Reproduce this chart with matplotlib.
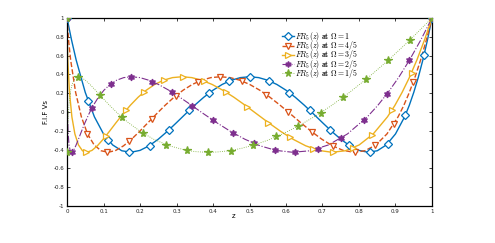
import matplotlib
matplotlib.use("Agg")
import matplotlib.pyplot as plt

plt.rcParams['mathtext.fontset'] = 'cm'

# ---- data ----
vals = [1.0, 0.764, 0.554, 0.208, -0.051, -0.233, -0.350, -0.412, -0.428, -0.408, -0.359,
        -0.289, -0.205, -0.113, -0.019, 0.073, 0.158, 0.232, 0.293, 0.338, 0.366, 0.375,
        0.366, 0.338, 0.293, 0.232, 0.158, 0.073, -0.019, -0.113, -0.205, -0.289, -0.359,
        -0.408, -0.428, -0.412, -0.350, -0.233, -0.051, 0.068, 0.208, 0.369, 0.554, 0.764, 1.0]

z_om1 = [0, 0.0125, 0.025, 0.05, 0.075, 0.1, 0.125, 0.15, 0.175, 0.2, 0.225, 0.25, 0.275, 0.3,
         0.325, 0.35, 0.375, 0.4, 0.425, 0.45, 0.475, 0.5, 0.525, 0.55, 0.575, 0.6, 0.625, 0.65,
         0.675, 0.7, 0.725, 0.75, 0.775, 0.8, 0.825, 0.85, 0.875, 0.9, 0.925, 0.9375, 0.95,
         0.9625, 0.975, 0.9875, 1.0]
v_om1 = vals
z_om45 = [0, 0.0042, 0.0099, 0.0236, 0.0393, 0.0562, 0.0743, 0.0934, 0.1132, 0.1337, 0.1550,
          0.1768, 0.1991, 0.2220, 0.2454, 0.2692, 0.2934, 0.3181, 0.3431, 0.3686, 0.3943, 0.4204,
          0.4469, 0.4736, 0.5007, 0.5281, 0.5557, 0.5836, 0.6118, 0.6403, 0.6690, 0.6980, 0.7272,
          0.7566, 0.7863, 0.8162, 0.8463, 0.8766, 0.9071, 0.9225, 0.9379, 0.9533, 0.9689, 0.9844, 1.0]
v_om45 = vals
z_om35 = [0, 0.0007, 0.0021, 0.0068, 0.0133, 0.0215, 0.0313, 0.0423, 0.0547, 0.0684, 0.0832,
          0.0992, 0.1163, 0.1344, 0.1536, 0.1738, 0.1950, 0.2172, 0.2402, 0.2642, 0.2891, 0.3150,
          0.3417, 0.3692, 0.3977, 0.4268, 0.4569, 0.4877, 0.5194, 0.5519, 0.5851, 0.6191, 0.6539,
          0.6894, 0.7257, 0.7628, 0.8005, 0.8390, 0.8781, 0.8980, 0.9180, 0.9383, 0.9587, 0.9793, 1.0]
v_om35 = vals
z_om25 = [0, 0.00002, 0.0001, 0.0006, 0.0015, 0.0032, 0.0055, 0.0087, 0.0128, 0.0179, 0.0240,
          0.0313, 0.0397, 0.0493, 0.0602, 0.0725, 0.0861, 0.1012, 0.1178, 0.1358, 0.1555, 0.1768,
          0.1997, 0.2243, 0.2507, 0.2789, 0.3088, 0.3406, 0.3743, 0.4100, 0.4476, 0.4871, 0.5287,
          0.5724, 0.6182, 0.6661, 0.7162, 0.7684, 0.8229, 0.8510, 0.8797, 0.9089, 0.9386, 0.9690, 1.0]
v_om25 = vals
z_om15 = [0, 0.00001, 0.00016, 0.00098, 0.0024, 0.0053, 0.0102, 0.0139, 0.0185, 0.0242, 0.0313,
          0.0399, 0.0503, 0.0629, 0.0778, 0.0954, 0.1160, 0.1401, 0.1681, 0.2003, 0.2373, 0.2796,
          0.3277, 0.3541, 0.3822, 0.4120, 0.4437, 0.4773, 0.5129, 0.5506, 0.5905, 0.6327, 0.6772,
          0.7242, 0.7738, 0.8260, 0.8811, 0.9390, 1.0]
v_om15 = [1.0, -0.233, -0.428, -0.289, -0.113, 0.073, 0.232, 0.293, 0.338, 0.366, 0.375,
          0.366, 0.338, 0.293, 0.232, 0.158, 0.073, -0.019, -0.113, -0.205, -0.289, -0.359,
          -0.408, -0.422, -0.428, -0.425, -0.412, -0.387, -0.350, -0.299, -0.233, -0.151, -0.051,
          0.068, 0.208, 0.369, 0.554, 0.764, 1.0]

# marker points
mz_om1 = [0, 0.058, 0.113, 0.171, 0.226, 0.28, 0.335, 0.39, 0.445, 0.5, 0.554, 0.609, 0.665,
          0.72, 0.773, 0.829, 0.879, 0.927, 0.978, 1.0]
mv_om1 = [1.0, 0.116, -0.301, -0.428, -0.357, -0.187, 0.018, 0.204, 0.330, 0.375, 0.331, 0.207,
          0.018, -0.187, -0.354, -0.428, -0.336, -0.033, 0.602, 1.0]
mz_om45 = [0, 0.056, 0.109, 0.171, 0.233, 0.298, 0.36, 0.42, 0.48, 0.546, 0.605, 0.67, 0.73,
           0.789, 0.844, 0.896, 0.949, 1.0]
mv_om45 = [1.0, -0.233, -0.427, -0.306, -0.07, 0.172, 0.32, 0.375, 0.329, 0.186, 0.003, -0.209,
           -0.364, -0.428, -0.355, -0.126, 0.322, 1.0]
mz_om35 = [0, 0.052, 0.107, 0.161, 0.212, 0.267, 0.319, 0.376, 0.436, 0.494, 0.552, 0.611,
           0.673, 0.73, 0.783, 0.837, 0.891, 0.944, 1.0]
mv_om35 = [1.0, -0.428, -0.252, 0.017, 0.217, 0.341, 0.375, 0.329, 0.211, 0.054, -0.113, -0.27,
           -0.39, -0.428, -0.384, -0.243, 0.023, 0.418, 1.0]
mz_om25 = [0, 0.013, 0.068, 0.121, 0.176, 0.234, 0.289, 0.343, 0.401, 0.456, 0.512, 0.57,
           0.626, 0.689, 0.75, 0.814, 0.876, 0.938, 1.0]
mv_om25 = [1.0, -0.428, 0.041, 0.300, 0.375, 0.322, 0.208, 0.066, -0.089, -0.222, -0.333,
           -0.407, -0.428, -0.388, -0.28, -0.083, 0.19, 0.55, 1.0]
mz_om15 = [0, 0.0002, 0.031, 0.09, 0.15, 0.209, 0.271, 0.328, 0.387, 0.449, 0.51, 0.572, 0.632,
           0.695, 0.755, 0.818, 0.879, 0.94, 1.0]
mv_om15 = [1.0, -0.428, 0.375, 0.181, -0.05, -0.224, -0.347, -0.408, -0.428, -0.41, -0.353,
           -0.26, -0.152, -0.008, 0.158, 0.35, 0.554, 0.766, 1.0]

labels = [r'$FR_5(z)\ \mathbf{at}\ \Omega = 1$', r'$FR_5(z)\ \mathbf{at}\ \Omega = 4/5$',
          r'$FR_5(z)\ \mathbf{at}\ \Omega = 3/5$', r'$FR_5(z)\ \mathbf{at}\ \Omega = 2/5$',
          r'$FR_5(z)\ \mathbf{at}\ \Omega = 1/5$']
xticks = [0, 0.1, 0.2, 0.3, 0.4, 0.5, 0.6, 0.7, 0.8, 0.9, 1]
yticks = [-1, -0.8, -0.6, -0.4, -0.2, 0, 0.2, 0.4, 0.6, 0.8, 1]

colors = ['#0072BD', '#D95319', '#EDB120', '#7E2F8E', '#77AC30']
styles = ['-', '--', '-', '-.', ':']
markers = ['D', 'v', '>', (6, 1, 0), '*']
fills = ['white', 'white', 'white', None, None]
msizes = [4.2, 4.8, 4.8, 4.8, 5.8]
lws = [1.0, 1.0, 1.0, 0.8, 0.6]

lines = [(z_om1, v_om1, mz_om1, mv_om1), (z_om45, v_om45, mz_om45, mv_om45),
         (z_om35, v_om35, mz_om35, mv_om35), (z_om25, v_om25, mz_om25, mv_om25),
         (z_om15, v_om15, mz_om15, mv_om15)]

fig = plt.figure(figsize=(4.95, 2.43), dpi=100)
ax = fig.add_axes([0.1354, 0.152, 0.7373, 0.774])

handles = []
for i, (lz, lv, mz, mv) in enumerate(lines):
    c = colors[i]
    ax.plot(lz, lv, linestyle=styles[i], color=c, lw=lws[i], zorder=2)
    mfc = fills[i] if fills[i] else c
    ax.plot(mz, mv, linestyle='none', marker=markers[i], color=c, mfc=mfc, mec=c,
            ms=msizes[i], mew=0.9, zorder=3)
    h, = ax.plot([], [], linestyle=styles[i], color=c, lw=lws[i], marker=markers[i],
                 mfc=mfc, mec=c, ms=msizes[i] * 0.9, mew=0.9)
    handles.append(h)

ax.set_xlim(0, 1)
ax.set_ylim(-1, 1)
ax.set_xticks(xticks)
ax.set_yticks(yticks)
ax.set_xticklabels([('%g' % t) for t in xticks])
ax.set_yticklabels([('%g' % t) for t in yticks])
ax.tick_params(direction='in', length=2.5, width=0.6, labelsize=4, top=True, right=True,
               pad=2, colors='#222222')
for s in ax.spines.values():
    s.set_linewidth(0.9)
ax.set_xlabel('z', fontsize=5, labelpad=0)
ax.xaxis.set_label_coords(0.457, -0.035)
ax.set_ylabel('F.I.F Vs', fontsize=5, labelpad=3)

leg = ax.legend(handles, labels, loc='upper left', bbox_to_anchor=(0.588, 0.935),
                frameon=False, fontsize=5.6, handlelength=1.55, handletextpad=0.15,
                labelspacing=-0.5, borderpad=0.0, borderaxespad=0.0)

fig.savefig('out.png', dpi=100)
